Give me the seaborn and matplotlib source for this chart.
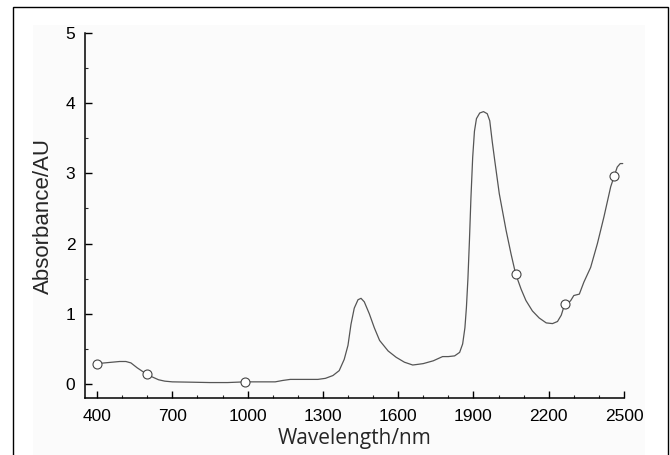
import numpy as np
import pandas as pd
import matplotlib
matplotlib.use("Agg")
import matplotlib.pyplot as plt
import seaborn as sns
from matplotlib.patches import Rectangle
from matplotlib.ticker import MultipleLocator

# spectrum (wavelength in nm, absorbance in AU)
wavelength = [400, 430, 460, 490, 515, 535, 560, 585, 600, 620, 645, 670, 700,
              780, 850, 920, 990, 1060, 1110, 1140, 1170, 1220, 1280, 1310,
              1340, 1365, 1385, 1400, 1412, 1425, 1440, 1452, 1465, 1485, 1505,
              1526, 1560, 1592, 1625, 1658, 1680, 1700, 1740, 1777, 1800, 1825,
              1845, 1857, 1866, 1872, 1878, 1884, 1890, 1897, 1904, 1912, 1925,
              1940, 1955, 1965, 1975, 1985, 2003, 2030, 2050, 2068, 2090, 2109,
              2135, 2162, 2190, 2215, 2235, 2250, 2264, 2275, 2288, 2300, 2322,
              2340, 2367, 2394, 2420, 2447, 2460, 2473, 2485, 2495]
absorbance = [0.29, 0.30, 0.31, 0.32, 0.32, 0.30, 0.23, 0.17, 0.14, 0.10, 0.06,
              0.04, 0.03, 0.025, 0.02, 0.02, 0.03, 0.03, 0.03, 0.05, 0.065,
              0.065, 0.065, 0.08, 0.12, 0.19, 0.35, 0.55, 0.85, 1.08, 1.20,
              1.22, 1.17, 1.00, 0.80, 0.62, 0.47, 0.38, 0.31, 0.27, 0.28, 0.29,
              0.33, 0.39, 0.39, 0.40, 0.45, 0.57, 0.80, 1.09, 1.50, 2.04, 2.65,
              3.23, 3.60, 3.78, 3.86, 3.88, 3.85, 3.75, 3.45, 3.18, 2.71, 2.19,
              1.85, 1.57, 1.35, 1.19, 1.04, 0.94, 0.87, 0.86, 0.89, 0.98, 1.14,
              1.14, 1.19, 1.26, 1.28, 1.45, 1.66, 2.00, 2.38, 2.81, 2.95, 3.09,
              3.14, 3.14]

# hollow circle markers on the curve
marker_wl = [400, 600, 990, 2068, 2264, 2462]
marker_ab = [0.29, 0.14, 0.03, 1.57, 1.14, 2.96]

xticks = [400, 700, 1000, 1300, 1600, 1900, 2200, 2500]
yticks = [0, 1, 2, 3, 4, 5]

sns.set_style("ticks")
plt.rcParams['font.family'] = ['Liberation Sans', 'DejaVu Sans']

df = pd.DataFrame({'wl': wavelength, 'ab': absorbance})
pts = pd.DataFrame({'wl': marker_wl, 'ab': marker_ab})

fig = plt.figure(figsize=(6.7, 4.55), dpi=100)

# outer frame and faint panel background
fig.patches.append(Rectangle((33 / 670, -0.05), (645 - 33) / 670, 1.05 - 25 / 455,
                             transform=fig.transFigure, facecolor='#fbfbfb',
                             edgecolor='none', zorder=-2))
fig.patches.append(Rectangle((13 / 670, -0.05), (668 - 13) / 670, 1.05 - 7 / 455,
                             transform=fig.transFigure, facecolor='none',
                             edgecolor='black', linewidth=1.0, zorder=-1))

ax = fig.add_axes([85 / 670, 57 / 455, (624 - 85) / 670, (398 - 33) / 455])
ax.set_zorder(2)
ax.set_facecolor('none')

sns.lineplot(data=df, x='wl', y='ab', ax=ax, color='#555555', linewidth=0.9,
             estimator=None, sort=False)
sns.scatterplot(data=pts, x='wl', y='ab', ax=ax, s=42, facecolor='white',
                edgecolor='#444444', linewidth=0.8, zorder=3)

ax.set_xlim(352, 2500)
ax.set_ylim(-0.2, 5)
ax.set_xticks(xticks)
ax.set_yticks(yticks)
ax.xaxis.set_minor_locator(MultipleLocator(100))
ax.yaxis.set_minor_locator(MultipleLocator(0.5))
ax.tick_params(which='major', direction='in', length=5, width=1.0,
               labelsize=12.5, colors='black')
ax.tick_params(which='minor', direction='in', length=2.5, width=0.8)
ax.tick_params(axis='x', pad=8)
ax.tick_params(axis='y', pad=7)

sns.despine(ax=ax)
for s in ['left', 'bottom']:
    ax.spines[s].set_linewidth(1.1)
    ax.spines[s].set_color('black')

ax.set_xlabel('Wavelength/nm', fontsize=15, family=['Open Sans', 'DejaVu Sans'],
              labelpad=3)
ax.set_ylabel('Absorbance/AU', fontsize=16, labelpad=8)

fig.savefig('out.png', dpi=100)
